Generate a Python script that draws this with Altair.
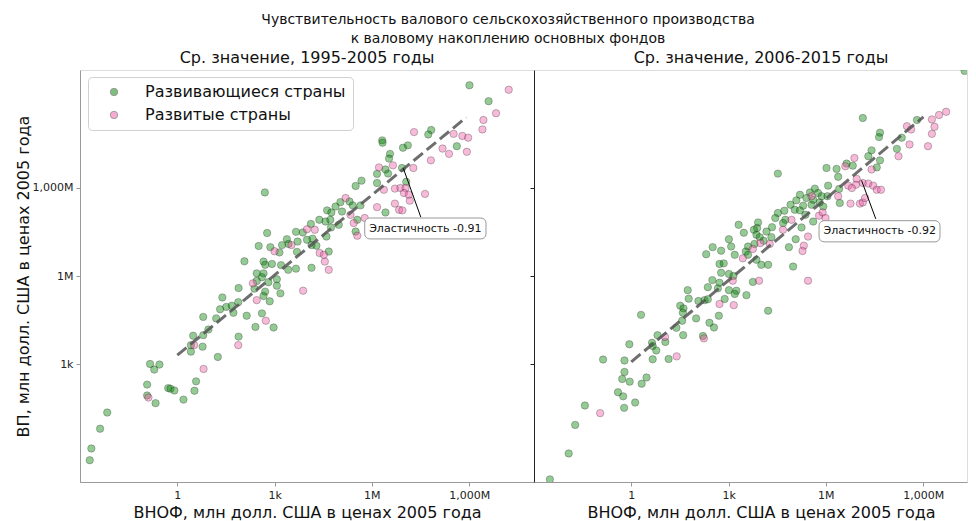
import altair as alt
import pandas as pd

FONT = "DejaVu Sans"
DEV = "Развивающиеся страны"
ADV = "Развитые страны"

# ---- Panel 1: 1995-2005, log10 values (x = ВНОФ, y = ВП) ----
l_dev_x = [0.49, 0.80, 0.42, 0.78, 0.42, 1.89, 1.25, -0.84, -0.55, -0.71, 0.58, -0.93, -0.28, -0.21,
           -0.09, 0.53, -0.93, -0.67, 0.19, -2.16, -2.38, -2.65, -2.70, 2.70, 2.77, 2.51, 2.87, 3.15,
           3.23, 3.38, 3.43, 3.66, 3.71, 3.69, 3.87, 4.12, 4.00, 4.17, 4.14, 4.29, 4.38, 4.57, 4.72,
           4.60, 4.67, 4.14, 4.62, 4.75, 4.88, 2.07, 2.66, 2.71, 2.92, 3.20, 3.42, 3.66, 2.45, 2.66,
           2.45, 2.61, 3.07, 2.81, 3.07, 2.38, 2.71, 2.66, 3.18, 1.89, 1.39, 1.88, 2.85, 1.32, 1.51,
           1.68, 1.73, 2.14, 2.61, 0.80, 1.20, 2.41, 2.97, 0.96, 9.01, 9.60, 7.83, 7.74, 8.62, 6.32,
           6.33, 7.11, 6.96, 6.56, 6.53, 6.42, 6.50, 6.16, 6.93, 7.06, 5.68, 5.50, 6.16, 6.42, 5.31,
           5.03, 5.41, 5.65, 5.08, 5.55, 4.98, 4.74, 5.50]
l_dev_y = [3.97, 3.99, 3.65, 3.60, 3.43, 3.94, 3.25, 3.01, 2.99, 2.82, 2.42, 2.31, 2.19, 2.17,
           2.11, 2.10, 1.94, 1.68, 1.80, 1.36, 0.81, 0.14, -0.26, 8.84, 7.46, 7.02, 6.98, 6.80,
           7.05, 7.25, 7.09, 7.50, 7.17, 6.82, 7.48, 7.77, 7.23, 7.27, 7.05, 7.03, 7.91, 7.85, 7.91,
           7.34, 6.83, 6.28, 8.23, 8.16, 8.36, 6.50, 6.49, 6.38, 6.41, 6.37, 6.21, 6.25, 6.09, 6.09,
           5.83, 5.96, 5.89, 5.79, 5.67, 5.57, 5.47, 5.32, 5.41, 5.59, 5.27, 5.11, 5.14, 4.87, 4.95,
           4.99, 4.75, 4.65, 4.73, 4.61, 4.56, 4.27, 4.25, 4.18, 12.48, 11.94, 10.96, 10.81, 10.41, 10.61,
           10.53, 10.44, 10.36, 10.15, 9.99, 9.62, 9.48, 9.47, 9.67, 9.20, 9.24, 9.06, 9.16, 8.16, 8.53,
           8.51, 8.40, 8.40, 8.19, 7.91, 7.74, 7.65, 7.51]
l_adv_x = [0.52, 1.88, 0.81, -0.89, 3.00, 3.52, 4.00, 4.24, 4.39, 4.52, 4.55, 4.67, 2.33, 3.88,
           2.45, 2.73, 10.22, 9.83, 9.44, 9.41, 7.30, 8.52, 8.79, 8.97, 8.18, 8.38, 8.93, 6.65, 6.22,
           7.28, 7.82, 6.37, 6.71, 6.88, 7.04, 6.99, 7.14, 7.64, 7.17, 6.71, 6.16, 6.84, 6.94, 5.78,
           5.19, 5.34, 5.44, 5.55]
l_adv_y = [3.65, 3.65, 2.84, 1.87, 6.84, 7.05, 7.59, 7.57, 6.78, 6.72, 6.49, 6.21, 5.75, 5.50,
           5.18, 4.48, 12.33, 11.53, 11.30, 10.98, 10.89, 10.83, 10.76, 10.70, 10.33, 10.15, 10.22, 9.76, 9.69,
           9.67, 9.93, 8.93, 8.97, 8.99, 8.99, 8.82, 8.76, 8.79, 8.56, 8.46, 8.34, 8.25, 8.23, 7.97,
           8.65, 8.08, 7.80, 7.37]

# ---- Panel 2: 2006-2015 ----
r_dev_x = [1.74, 1.77, 1.51, 1.61, 1.59, 2.07, 2.00, 1.57, 1.39, 1.60, 2.21, 0.30, 0.81, 1.05,
           0.64, 0.66, 0.77, -0.06, 0.66, 1.15, -0.87, -0.21, -0.21, -0.28, -0.05, 0.47, 0.32, -0.41,
           -0.25, 0.12, -0.22, -1.43, -1.73, -1.93, -2.51, 4.52, 5.66, 5.51, 5.20, 5.40, 5.76, 5.09,
           4.91, 5.30, 5.04, 5.20, 5.37, 5.56, 4.72, 4.52, 4.44, 4.75, 4.68, 5.61, 5.25, 5.07, 4.86,
           4.34, 4.17, 3.31, 3.47, 3.91, 3.88, 3.78, 3.86, 3.96, 4.32, 4.08, 3.80, 3.60, 3.53, 3.60,
           3.86, 4.01, 4.22, 4.99, 3.01, 3.08, 2.77, 2.51, 2.31, 3.19, 2.72, 2.85, 2.77, 3.01, 3.15,
           2.50, 2.72, 2.36, 2.67, 3.01, 3.24, 3.19, 2.88, 3.55, 3.75, 2.26, 2.36, 2.70, 4.22, 2.41,
           2.55, 10.28, 10.51, 7.14, 8.81, 8.34, 7.67, 7.64, 7.41, 8.19, 7.31, 7.67, 7.57, 6.64, 6.83,
           6.02, 6.33, 6.38, 6.07, 6.41, 6.05, 6.43, 5.87, 5.61, 5.81, 5.92]
r_dev_y = [5.52, 5.23, 4.99, 4.90, 4.75, 5.15, 4.56, 4.48, 4.24, 3.99, 3.96, 4.68, 3.99, 3.76,
           3.73, 3.62, 3.47, 3.68, 3.17, 3.18, 3.16, 3.13, 2.74, 2.50, 2.41, 2.55, 2.34, 2.05,
           1.91, 1.70, 1.52, 1.60, 0.94, -0.03, -0.91, 9.48, 8.97, 8.84, 8.76, 8.65, 8.82, 8.57,
           8.42, 8.39, 8.25, 8.23, 8.08, 8.42, 8.22, 8.14, 7.97, 7.91, 7.80, 7.85, 7.65, 7.25, 6.98,
           7.66, 7.51, 7.74, 7.47, 7.82, 7.63, 7.57, 7.40, 7.32, 7.32, 7.20, 7.09, 7.00, 6.83, 6.72,
           6.55, 6.38, 6.38, 6.32, 7.25, 7.00, 6.86, 6.98, 6.74, 6.72, 6.41, 6.43, 6.11, 6.07, 6.00,
           5.86, 5.77, 5.62, 5.58, 5.52, 5.50, 5.39, 5.22, 5.35, 5.80, 5.18, 5.21, 4.65, 4.82, 4.41,
           4.25, 12.97, 12.27, 11.37, 11.30, 10.70, 10.87, 10.72, 10.27, 10.32, 10.07, 9.93, 9.69, 9.82, 9.75,
           9.67, 9.64, 9.37, 9.07, 8.96, 8.71, 8.48, 8.71, 8.59, 8.50, 8.36]
r_adv_x = [1.04, 1.40, -0.96, 2.24, 5.56, 4.94, 4.68, 5.45, 5.32, 5.28, 5.79, 3.98, 4.27, 3.75,
           3.44, 3.13, 3.94, 5.45, 2.72, 3.16, 10.64, 9.71, 9.49, 9.27, 9.35, 9.27, 9.15, 8.50, 8.63,
           8.58, 8.24, 7.41, 6.88, 6.60, 6.95, 7.14, 7.31, 7.46, 7.57, 7.70, 6.93, 6.69, 6.80, 6.38,
           6.76, 7.05, 7.14, 7.21, 5.90, 5.99]
r_adv_y = [3.93, 3.27, 1.34, 3.88, 8.71, 7.91, 7.57, 7.34, 7.03, 6.85, 8.05, 7.12, 7.09, 6.92,
           6.60, 5.84, 5.84, 5.84, 5.05, 5.01, 12.57, 11.58, 11.47, 11.32, 11.07, 10.83, 10.41, 11.09, 10.98,
           10.47, 10.07, 9.62, 10.01, 9.73, 9.30, 9.16, 9.14, 9.07, 8.93, 8.93, 9.10, 9.07, 8.99, 8.71,
           8.46, 8.46, 8.50, 8.65, 8.16, 7.97]

# regression lines (log10 endpoints)
l_reg_x = [0.0, 8.91]
l_reg_y = [3.31, 11.39]
r_reg_x = [0.0, 9.01]
r_reg_y = [3.08, 11.41]

# annotations (log10): arrow start/end, box corners, text centre
l_ann = dict(text="Эластичность -0.91", ax=6.97, ay=9.66, bx=7.51, by=8.00,
             x1=5.78, x2=9.52, y1=7.26, y2=7.97, tx=7.65, ty=7.61)
r_ann = dict(text="Эластичность -0.92", ax=7.10, ay=9.25, bx=7.54, by=7.94,
             x1=5.79, x2=9.52, y1=7.16, y2=7.88, tx=7.66, ty=7.52)

TICK_EXPR = "datum.value < 10 ? '1' : datum.value < 1e4 ? '1k' : datum.value < 1e7 ? '1M' : '1,000M'"
YDOM = [1e-1, 1e13]
H = 412
WL = 454                      # 14 decades of x
WR = 433                      # right panel cut at the page edge
XDOM_L = [1e-3, 1e11]
XDOM_R = [1e-3, 10 ** (WR / (WL / 14.0) - 3)]


def points_df(dx, dy, ax, ay):
    rows = [{"x": 10 ** a, "y": 10 ** b, "group": DEV} for a, b in zip(dx, dy)]
    rows += [{"x": 10 ** a, "y": 10 ** b, "group": ADV} for a, b in zip(ax, ay)]
    return pd.DataFrame(rows)


def panel(df, rx, ry, ann, title, left):
    xs = alt.Scale(type="log", domain=XDOM_L if left else XDOM_R, nice=False, zero=False)
    ys = alt.Scale(type="log", domain=YDOM, nice=False, zero=False)
    xaxis = alt.Axis(values=[1, 1e3, 1e6, 1e9], labelExpr=TICK_EXPR, grid=False,
                     title="ВНОФ, млн долл. США в ценах 2005 года", titleFontSize=16,
                     titleFontWeight="normal", titleFont=FONT, titleColor="#111",
                     titleAnchor="middle", titleX=WL / 2,
                     labelFont=FONT, labelFontSize=11, labelColor="#222",
                     domainColor="#999", tickColor="#999", tickSize=4, labelPadding=3,
                     titlePadding=4, labelFlush=False)
    if left:
        yaxis = alt.Axis(values=[1e3, 1e6, 1e9], labelExpr=TICK_EXPR, grid=False,
                         title="ВП, млн долл. США в ценах 2005 года", titleFontSize=16,
                         titleFontWeight="normal", titleFont=FONT, titleColor="#111",
                         labelFont=FONT, labelFontSize=11, labelColor="#222",
                         domainColor="#999", tickColor="#999", tickSize=4, labelPadding=3,
                         titlePadding=1, labelFlush=False)
        legend = alt.Legend(title=None, orient="none", legendX=8, legendY=7,
                            labelFont=FONT, labelFontSize=16, labelColor="#111", labelLimit=400,
                            symbolType="circle", symbolSize=55, symbolOpacity=0.5,
                            symbolStrokeColor="#222", symbolStrokeWidth=0.8,
                            fillColor="white", strokeColor="#d0d0d0", cornerRadius=4,
                            padding=7, rowPadding=7, symbolOffset=11, labelOffset=23)
    else:
        yaxis = alt.Axis(values=[1e3, 1e6, 1e9], labels=False, title=None, grid=False,
                         domainColor="#222", tickColor="#222", tickSize=4)
        legend = None

    pts = alt.Chart(df).mark_circle(size=55, opacity=1, fillOpacity=0.42, stroke="#222",
                                    strokeWidth=0.7, strokeOpacity=0.42, clip=True).encode(
        x=alt.X("x:Q", scale=xs, axis=xaxis),
        y=alt.Y("y:Q", scale=ys, axis=yaxis),
        color=alt.Color("group:N", scale=alt.Scale(domain=[DEV, ADV], range=["#008000", "#ee5aa5"]),
                        legend=legend, sort=[DEV, ADV]),
        order=alt.Order("o:Q"),
    ).transform_calculate(o="datum.group == '%s' ? 0 : 1" % DEV)

    reg_df = pd.DataFrame({"x": [10 ** v for v in rx], "y": [10 ** v for v in ry]})
    reg = alt.Chart(reg_df).mark_line(color="#555", strokeWidth=3, strokeDash=[12, 5],
                                      opacity=0.85).encode(x="x:Q", y="y:Q")

    a = pd.DataFrame([{k: (10 ** v if isinstance(v, float) else v) for k, v in ann.items()}])
    arrow = alt.Chart(a).mark_rule(color="black", strokeWidth=1).encode(
        x="ax:Q", y="ay:Q", x2="bx:Q", y2="by:Q")
    box = alt.Chart(a).mark_rect(fill="white", stroke="#999", strokeWidth=1, cornerRadius=5).encode(
        x="x1:Q", x2="x2:Q", y="y1:Q", y2="y2:Q")
    txt = alt.Chart(a).mark_text(font=FONT, fontSize=11, color="#111").encode(
        x="tx:Q", y="ty:Q", text="text:N")

    return alt.layer(pts, reg, arrow, box, txt).properties(
        width=WL if left else WR, height=H,
        title=alt.TitleParams(title, font=FONT, fontSize=16, fontWeight="normal",
                              color="#111", anchor="middle", offset=4,
                              dx=0 if left else (WL - WR) / 2))


left = panel(points_df(l_dev_x, l_dev_y, l_adv_x, l_adv_y), l_reg_x, l_reg_y, l_ann,
             "Ср. значение, 1995-2005 годы", True)
right = panel(points_df(r_dev_x, r_dev_y, r_adv_x, r_adv_y), r_reg_x, r_reg_y, r_ann,
              "Ср. значение, 2006-2015 годы", False)

chart = alt.hconcat(left, right, spacing=0, bounds="flush").resolve_scale(
    color="independent").resolve_legend(color="independent").properties(
    title=alt.TitleParams(["Чувствительность валового сельскохозяйственного производства",
                           "к валовому накоплению основных фондов"],
                          font=FONT, fontSize=14, fontWeight="normal", color="#111",
                          anchor="middle", lineHeight=19, offset=4, dx=17)
).configure_view(stroke=None).configure(padding={"left": 6, "top": 4, "right": 0, "bottom": 0})

chart.save("out.html", embed_options={"renderer": "svg", "actions": False})
